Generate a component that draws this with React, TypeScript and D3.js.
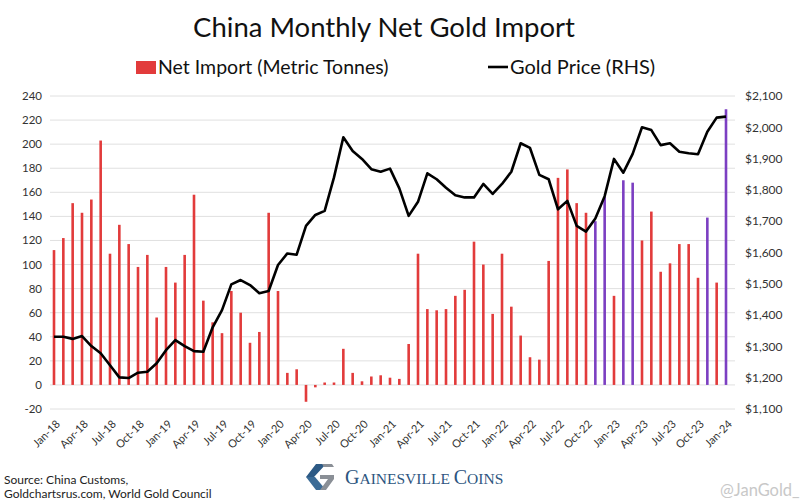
import { useEffect, useRef } from "react";
import * as d3 from "d3";

const monthNames = ["Jan", "Feb", "Mar", "Apr", "May", "Jun", "Jul", "Aug", "Sep", "Oct", "Nov", "Dec"];
const years = ["18", "19", "20", "21", "22", "23", "24"];
const months = years.flatMap((yy) => monthNames.map((m) => `${m}-${yy}`)).slice(0, 73);

// China net gold import, metric tonnes
const netImport = [
  112, 122, 151, 143, 154, 203, 109, 133, 117, 98, 108, 56,
  98, 85, 108, 158, 70, 52, 43, 78, 60, 35, 44, 143,
  78, 10, 13, -14, -2, 2, 2, 30, 10, 3, 7, 8,
  6, 5, 34, 109, 63, 62, 63, 74, 79, 119, 100, 59,
  109, 65, 41, 23, 21, 103, 172, 179, 151, 143, 136, 156,
  74, 170, 168, 120, 144, 94, 101, 117, 117, 89, 139, 85,
  229,
];

// Gold price, USD/oz (RHS)
const goldPrice = [
  1331, 1331, 1324, 1333, 1301, 1278, 1240, 1201, 1199, 1216, 1219, 1246,
  1288, 1320, 1301, 1285, 1283, 1361, 1416, 1498, 1512, 1496, 1470, 1477,
  1560, 1597, 1593, 1685, 1720, 1733, 1840, 1968, 1924, 1899, 1866, 1858,
  1868, 1805, 1717, 1762, 1853, 1834, 1807, 1783, 1776, 1776, 1819, 1787,
  1819, 1858, 1949, 1934, 1848, 1834, 1738, 1765, 1685, 1667, 1709, 1780,
  1899, 1855, 1915, 2000, 1991, 1943, 1949, 1922, 1917, 1914, 1986, 2031,
  2034,
];

const purpleMonths = ["Nov-22", "Dec-22", "Feb-23", "Mar-23", "Nov-23", "Jan-24"];
const leftTicks = [-20, 0, 20, 40, 60, 80, 100, 120, 140, 160, 180, 200, 220, 240];
const rightTicks = [1100, 1200, 1300, 1400, 1500, 1600, 1700, 1800, 1900, 2000, 2100];
const xTickLabels = months.filter((_, i) => i % 3 === 0);

const font = "Lato, 'Noto Sans', sans-serif";
const red = "#e23b3b";
const purple = "#7c3fc2";

const App = () => {
  const svgRef = useRef<SVGSVGElement>(null);

  useEffect(() => {
    const svg = d3.select(svgRef.current);
    svg.selectAll("*").remove();

    const width = 801;
    const height = 502;

    const x = d3.scalePoint().domain(months).range([54, 726]);
    const yL = d3.scaleLinear().domain([-20, 240]).range([409, 96]);
    const yR = d3.scaleLinear().domain([1100, 2100]).range([409, 96]);

    svg.append("rect").attr("width", width).attr("height", height).attr("fill", "#fff");

    // Gridlines
    svg.append("g")
      .selectAll("line")
      .data(leftTicks)
      .enter()
      .append("line")
      .attr("x1", 50)
      .attr("x2", 735)
      .attr("y1", (d) => yL(d))
      .attr("y2", (d) => yL(d))
      .attr("stroke", "#e0e0e0")
      .attr("stroke-width", 1);

    // Left axis labels
    svg.append("g")
      .selectAll("text")
      .data(leftTicks)
      .enter()
      .append("text")
      .attr("x", 42)
      .attr("y", (d) => yL(d))
      .attr("dy", "0.35em")
      .attr("text-anchor", "end")
      .style("font-family", font)
      .style("font-size", "11.5px")
      .attr("fill", "#333")
      .text((d) => d);

    // Right axis labels
    svg.append("g")
      .selectAll("text")
      .data(rightTicks)
      .enter()
      .append("text")
      .attr("x", 745)
      .attr("y", (d) => yR(d))
      .attr("dy", "0.35em")
      .style("font-family", font)
      .style("font-size", "12px")
      .attr("fill", "#333")
      .text((d) => d3.format("$,")(d));

    // Bars
    const barW = 2.6;
    svg.append("g")
      .selectAll("rect")
      .data(netImport)
      .enter()
      .append("rect")
      .attr("x", (_, i) => (x(months[i]) || 0) - barW / 2)
      .attr("y", (d) => yL(Math.max(0, d)))
      .attr("width", barW)
      .attr("height", (d) => Math.abs(yL(d) - yL(0)))
      .attr("fill", (_, i) => (purpleMonths.includes(months[i]) ? purple : red));

    // Gold price line
    const line = d3.line<number>()
      .x((_, i) => x(months[i]) || 0)
      .y((d) => yR(d));
    svg.append("path")
      .datum(goldPrice)
      .attr("d", line)
      .attr("fill", "none")
      .attr("stroke", "#000")
      .attr("stroke-width", 2.6)
      .attr("stroke-linejoin", "round");

    // X axis labels
    svg.append("g")
      .selectAll("text")
      .data(xTickLabels)
      .enter()
      .append("text")
      .attr("transform", (d) => `translate(${(x(d) || 0) + 4},${422}) rotate(-45)`)
      .attr("text-anchor", "end")
      .attr("dy", "0.35em")
      .style("font-family", font)
      .style("font-size", "11px")
      .attr("fill", "#333")
      .text((d) => d);

    // Title
    svg.append("text")
      .attr("x", 384)
      .attr("y", 37)
      .attr("text-anchor", "middle")
      .style("font-family", font)
      .style("font-size", "27.5px")
      .attr("fill", "#111")
      .text("China Monthly Net Gold Import");

    // Legend
    svg.append("rect").attr("x", 136).attr("y", 61).attr("width", 20).attr("height", 13).attr("fill", red);
    svg.append("text")
      .attr("x", 158)
      .attr("y", 73.5)
      .style("font-family", font)
      .style("font-size", "19.5px")
      .attr("fill", "#111")
      .text("Net Import (Metric Tonnes)");
    svg.append("line")
      .attr("x1", 488).attr("x2", 508).attr("y1", 67).attr("y2", 67)
      .attr("stroke", "#000").attr("stroke-width", 2.6);
    svg.append("text")
      .attr("x", 510)
      .attr("y", 73.5)
      .style("font-family", font)
      .style("font-size", "20px")
      .attr("fill", "#111")
      .text("Gold Price (RHS)");

    // Source
    const src = svg.append("text")
      .style("font-family", font)
      .style("font-size", "12px")
      .attr("fill", "#222");
    src.append("tspan").attr("x", 4).attr("y", 484).text("Source: China Customs,");
    src.append("tspan").attr("x", 4).attr("y", 498).text("Goldchartsrus.com, World Gold Council");

    // Logo
    const logo = svg.append("g").attr("transform", "translate(320,477)");
    logo.append("path")
      .attr("d", "M-4,-13 L6,-13 L-6,0 L-4,2 L-14,0 Z")
      .attr("fill", "#2d5a85");
    logo.append("path")
      .attr("d", "M-14,0 L-4,13 L6,13 L-5,0 Z")
      .attr("fill", "#3b6b96");
    logo.append("path")
      .attr("d", "M2,-13 L12,-13 L14,-10 L4,-10 Z M0,-2 L14,-2 L14,2 L6,13 L0,13 L8,2 L0,2 Z")
      .attr("fill", "#8a8f96");
    const brand = logo.append("text")
      .attr("x", 25)
      .attr("y", 7)
      .style("font-family", "'Liberation Serif', 'DejaVu Serif', serif")
      .attr("fill", "#2d5580");
    brand.append("tspan").style("font-size", "20px").text("G");
    brand.append("tspan").style("font-size", "15.5px").text("AINESVILLE ");
    brand.append("tspan").style("font-size", "20px").text("C");
    brand.append("tspan").style("font-size", "15.5px").text("OINS");

    // Watermark
    svg.append("text")
      .attr("x", 720)
      .attr("y", 496)
      .style("font-family", font)
      .style("font-size", "16.5px")
      .attr("fill", "#c8c8c8")
      .text("@JanGold_");
  }, []);

  return (
    <div style={{ position: "absolute", left: 0, top: 0 }}>
      <svg ref={svgRef} width={801} height={502} style={{ display: "block" }}></svg>
    </div>
  );
};

export default App;
